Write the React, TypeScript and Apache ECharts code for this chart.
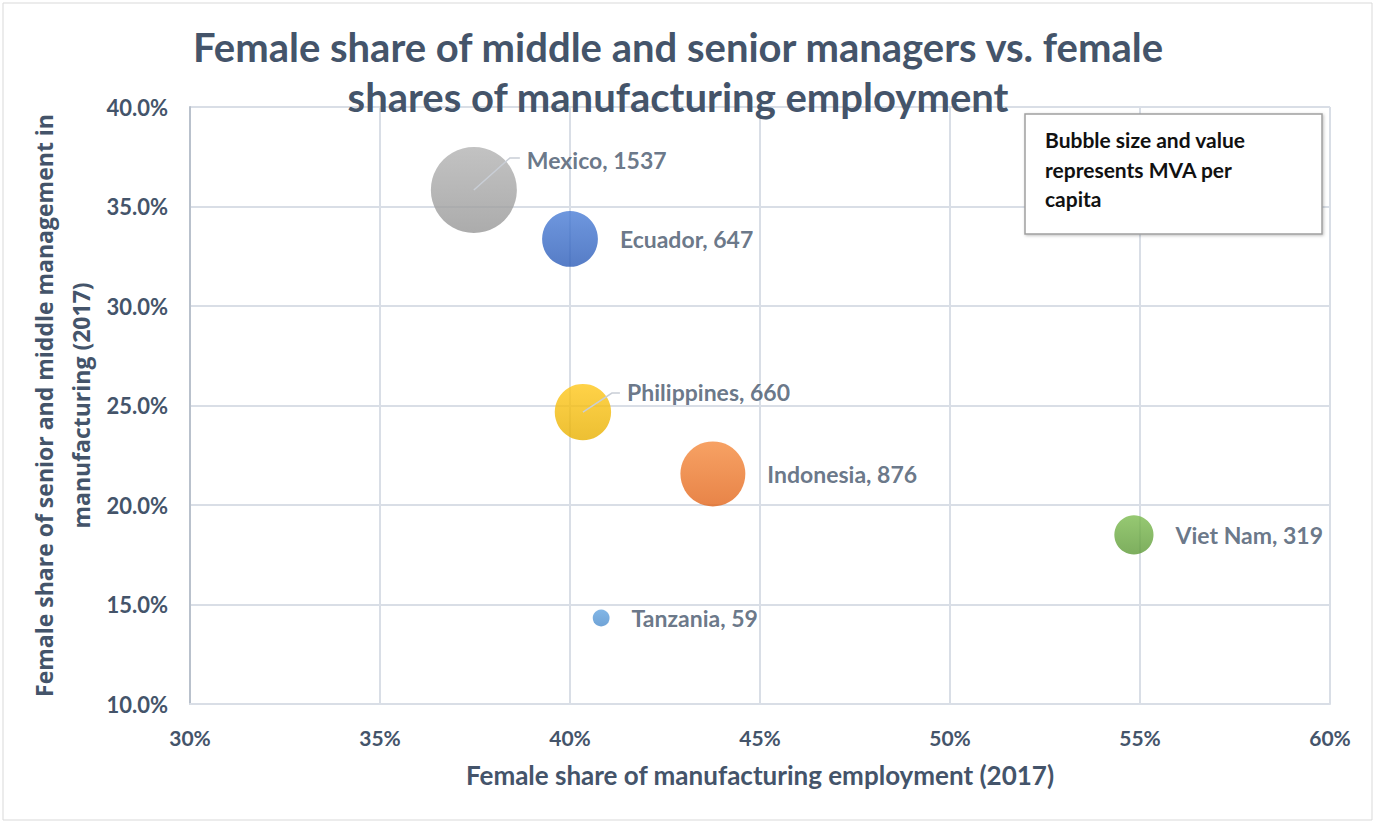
import React, { useEffect, useRef } from "react";
import * as echarts from "echarts";

const countries = ["Mexico", "Ecuador", "Philippines", "Indonesia", "Viet Nam", "Tanzania"];
const employmentShare = [37.47, 40.0, 40.34, 43.76, 54.84, 40.82];
const managerShare = [35.83, 33.37, 24.67, 21.56, 18.5, 14.32];
const mvaPerCapita = [1537, 647, 660, 876, 319, 59];

const xTicks = { min: 30, max: 60, interval: 5 };
const yTicks = { min: 10, max: 40, interval: 5 };

const colorTop = ["#b3b3b3", "#4a7dd6", "#ffc71a", "#f58a3d", "#7cbb4f", "#63a4e0"];
const colorBottom = ["#979797", "#2c5cb8", "#e8b000", "#e2651a", "#5d9a36", "#4c8ccc"];

// labels with a leader line: offset from the default "right" label place
const leaderLabels: Record<string, { offset: [number, number]; line: [number, number][] }> = {
  Mexico: { offset: [-12, -30], line: [[0, 0], [36, -32], [46, -32]] },
  Philippines: { offset: [-6, -20], line: [[0, 0], [29, -19], [37, -19]] },
};

const TEXT = "#44546a";
const FONT = "Lato, 'Open Sans', sans-serif";
const WIDE_FONT = "'Open Sans', Lato, sans-serif";

function bubbleSize(v: number) {
  return 86 * Math.sqrt(v / 1537);
}

export default function App() {
  const ref = useRef<HTMLDivElement>(null);
  useEffect(() => {
    if (!ref.current) return;
    const chart = echarts.init(ref.current, null, { renderer: "svg" });
    const data = countries.map((name, i) => {
      const ll = leaderLabels[name];
      return {
        name,
        value: [employmentShare[i], managerShare[i], mvaPerCapita[i]],
        itemStyle: {
          color: new echarts.graphic.LinearGradient(0, 0, 0, 1, [
            { offset: 0, color: colorTop[i] },
            { offset: 1, color: colorBottom[i] },
          ]),
        },
        label: ll ? { offset: ll.offset } : undefined,
      };
    });
    const option: any = {
      animation: false,
      backgroundColor: "#ffffff",
      title: {
        text: "Female share of middle and senior managers vs. female\nshares of manufacturing employment",
        left: 673,
        top: 17,
        textAlign: "center",
        textStyle: {
          fontFamily: FONT,
          fontSize: 40,
          fontWeight: "bold",
          color: TEXT,
          lineHeight: 50,
        },
      },
      grid: { left: 190, right: 45, top: 107, bottom: 119, containLabel: false },
      xAxis: {
        type: "value",
        min: xTicks.min,
        max: xTicks.max,
        interval: xTicks.interval,
        name: "Female share of manufacturing employment (2017)",
        nameLocation: "middle",
        nameGap: 58,
        nameTextStyle: { fontFamily: FONT, fontSize: 26, fontWeight: "bold", color: TEXT },
        axisLine: { show: true, lineStyle: { color: "#d9dee6", width: 2 } },
        axisTick: { show: false },
        axisLabel: {
          margin: 23,
          fontFamily: FONT,
          fontSize: 21,
          fontWeight: "bold",
          color: TEXT,
          formatter: (v: number) => `${v}%`,
        },
        splitLine: { show: true, lineStyle: { color: "#d9dee6", width: 2 } },
      },
      yAxis: {
        type: "value",
        min: yTicks.min,
        max: yTicks.max,
        interval: yTicks.interval,
        name: "Female share of senior and middle management in\nmanufacturing (2017)",
        nameLocation: "middle",
        nameRotate: 90,
        nameGap: 91,
        nameMoveOverlap: false,
        nameTextStyle: {
          fontFamily: WIDE_FONT,
          fontSize: 23,
          fontWeight: "bold",
          color: TEXT,
          lineHeight: 37,
        },
        axisLine: { show: true, lineStyle: { color: "#b9c1cc", width: 2 } },
        axisTick: { show: false },
        axisLabel: {
          margin: 22,
          fontFamily: FONT,
          fontSize: 22,
          fontWeight: "bold",
          color: TEXT,
          formatter: (v: number) => `${v.toFixed(1)}%`,
        },
        splitLine: { show: true, lineStyle: { color: "#d9dee6", width: 2 } },
      },
      series: [
        {
          type: "scatter",
          data,
          symbol: "circle",
          symbolSize: (val: number[]) => bubbleSize(val[2]),
          label: {
            show: true,
            position: "right",
            distance: 22,
            formatter: (p: any) => `${p.name}, ${p.value[2]}`,
            fontFamily: FONT,
            fontSize: 23,
            fontWeight: "bold",
            color: TEXT,
          },
        },
      ],
    };
    chart.setOption(option);

    const leaders: any[] = [];
    countries.forEach((name, i) => {
      const ll = leaderLabels[name];
      if (!ll) return;
      const c = chart.convertToPixel({ gridIndex: 0 }, [employmentShare[i], managerShare[i]]) as number[];
      leaders.push({
        type: "polyline",
        z: 100,
        shape: { points: ll.line.map(([dx, dy]) => [c[0] + dx, c[1] + dy]) },
        style: { stroke: "#c9ced6", lineWidth: 1.5, fill: "none" },
      });
    });

    chart.setOption({
      graphic: [
        {
          type: "rect",
          shape: { x: 3, y: 3, width: 1369, height: 817 },
          style: { fill: "none", stroke: "#d9d9d9", lineWidth: 1 },
          z: 0,
        },
        {
          type: "rect",
          shape: { x: 1025, y: 114, width: 297, height: 120 },
          style: { fill: "#ffffff", stroke: "#a0a0a0", lineWidth: 1.5, shadowBlur: 3, shadowColor: "rgba(0,0,0,0.25)", shadowOffsetX: 1, shadowOffsetY: 1 },
          z: 50,
        },
        {
          type: "text",
          x: 1045,
          y: 125,
          z: 51,
          style: {
            text: "Bubble size and value\nrepresents MVA per\ncapita",
            fontFamily: FONT,
            fontSize: 21,
            fontWeight: "bold",
            fill: "#111111",
            lineHeight: 29.5,
          },
        },
        ...leaders,
      ],
    });

    return () => chart.dispose();
  }, []);
  return (
    <div
      ref={ref}
      style={{ position: "fixed", left: 0, top: 0, width: 1375, height: 823 }}
    />
  );
}
